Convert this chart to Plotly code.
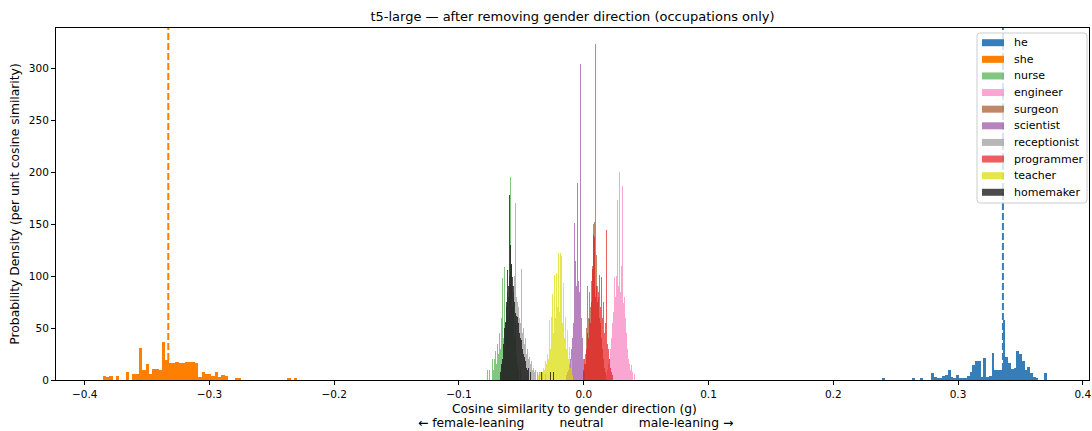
import plotly.graph_objects as go

# ---------------- data ----------------
series_names = ["he", "she", "nurse", "engineer", "surgeon", "scientist",
                "receptionist", "programmer", "teacher", "homemaker"]

she_start = -0.3855
she_bin_width = 0.00264
she_density = [3.8, 2.5, 3.8, 0, 3.8, 0, 0, 8, 0, 5.8, 5.8, 30.4, 9.6, 15.4, 5.8,
               10.3, 10.3, 9.6, 36.9, 19.2, 16.7, 16.7, 17.6, 16, 16, 17, 17, 17,
               16.7, 3.2, 8, 5.8, 5.8, 3.8, 8, 2.5, 4.5, 3.5, 0, 0, 1.5, 1.5,
               0, 0, 0, 0, 0, 0, 0, 0, 0, 0, 0, 0, 0, 0, 1.6, 0, 1.6, 0]

he_start = 0.2390
he_bin_width = 0.0022
he_density = [1.6, 0, 0, 0, 0, 0, 0, 0, 0, 0, 0, 1.9, 0, 0, 1.9, 0, 0, 0, 7, 2.6,
              1.6, 1.6, 3.5, 5, 10, 3, 1.6, 4.5, 1.6, 1.6, 2, 4, 8, 14.4, 18, 18,
              3, 21, 3, 4, 26, 10, 10, 10, 57.7, 22, 16, 10.5, 12, 28, 25, 18, 10,
              12.5, 7, 3, 1.6, 0, 0, 7]

she_mean = -0.333
he_mean = 0.336

occ_bin_width = 0.0008

nurse_start = -0.07772
nurse_density = [10, 0, 10, 0, 0, 20, 10, 20, 28, 15, 35, 25, 45, 30, 60, 98, 40,
                 109, 55, 70, 85, 60, 95, 195, 110, 70, 80, 40, 55, 25, 15, 10, 0, 10]

engineer_start = 0.01763
engineer_density = [5, 10, 15, 20, 30, 40, 55, 65, 99, 80, 100, 173, 90, 200, 85,
                    110, 187, 74, 80, 60, 45, 30, 20, 15, 10, 14, 8, 0, 6]

surgeon_start = -0.0008
surgeon_density = [8, 15, 25, 50, 90, 60, 85, 70, 95, 110, 150, 152, 323, 120, 90,
                   80, 60, 55, 40, 30, 20, 12, 8]

scientist_start = -0.01442
scientist_density = [5, 8, 10, 15, 20, 30, 40, 55, 151, 114, 90, 189, 95, 85, 304,
                     60, 40, 20, 8]

receptionist_start = -0.06731
receptionist_density = [10, 0, 15, 20, 30, 40, 55, 70, 80, 100, 95, 112, 90, 85, 100,
                        170, 80, 75, 70, 60, 55, 107, 45, 50, 35, 40, 25, 30, 20, 22,
                        15, 18, 10, 12, 8, 10, 0, 8, 0, 8, 0, 0, 8, 0, 0, 6]

programmer_start = -0.0008
programmer_density = [10, 20, 15, 30, 45, 40, 59, 55, 75, 107, 139, 138, 80, 90, 75,
                      85, 101, 70, 99, 60, 75, 45, 55, 144, 35, 30, 20, 12, 8, 5]

teacher_start = -0.03686
teacher_density = [5, 0, 8, 0, 8, 12, 10, 18, 15, 25, 20, 58, 30, 61, 83, 45, 101,
                   60, 103, 70, 122, 65, 122, 119, 55, 93, 40, 61, 30, 48, 20, 32,
                   12, 19, 5]

homemaker_start = -0.06731
homemaker_density = [8, 15, 20, 35, 50, 56, 75, 106, 90, 178, 130, 112, 99, 90, 75,
                     64, 62, 61, 55, 45, 40, 38, 30, 25, 22, 18, 12, 10, 12, 0, 8,
                     0, 0, 0, 0, 0, 0, 0, 0, 0, 0, 8, 0, 0, 0, 0, 0, 0, 0, 0, 8, 0,
                     0, 8]

x_ticks = [-0.4, -0.3, -0.2, -0.1, 0.0, 0.1, 0.2, 0.3, 0.4]
y_ticks = [0, 50, 100, 150, 200, 250, 300]

title_text = "t5-large — after removing gender direction (occupations only)"
x_title = "Cosine similarity to gender direction (g)"
x_subtitle = ["← female-leaning", "neutral", "male-leaning →"]
y_title = "Probability Density (per unit cosine similarity)"

# ---------------- style / layout ----------------
W, H = 1092, 431
PL, PR, PT, PB = 56, 1089, 28, 380          # plot area in pixels

colors = {
    "he": "#377eb8", "she": "#ff7f00", "nurse": "#4daf4a", "engineer": "#f781bf",
    "surgeon": "#a65628", "scientist": "#984ea3", "receptionist": "#999999",
    "programmer": "#e41a1c", "teacher": "#dada00", "homemaker": "#000000",
}
alphas = {"he": 1.0, "she": 1.0}
occ_alpha = 0.7


def rgba(hex_color, a):
    h = hex_color.lstrip("#")
    r, g, b = int(h[0:2], 16), int(h[2:4], 16), int(h[4:6], 16)
    return f"rgba({r},{g},{b},{a})"


def centers(start, width, n):
    return [start + (i + 0.5) * width for i in range(n)]


def px_x(px):
    return (px - PL) / (PR - PL)


def px_y(py):
    return (PB - py) / (PB - PT)


hist_data = {
    "he": (he_start, he_bin_width, he_density),
    "she": (she_start, she_bin_width, she_density),
    "nurse": (nurse_start, occ_bin_width, nurse_density),
    "engineer": (engineer_start, occ_bin_width, engineer_density),
    "surgeon": (surgeon_start, occ_bin_width, surgeon_density),
    "scientist": (scientist_start, occ_bin_width, scientist_density),
    "receptionist": (receptionist_start, occ_bin_width, receptionist_density),
    "programmer": (programmer_start, occ_bin_width, programmer_density),
    "teacher": (teacher_start, occ_bin_width, teacher_density),
    "homemaker": (homemaker_start, occ_bin_width, homemaker_density),
}

fig = go.Figure()
for name in series_names:
    start, width, dens = hist_data[name]
    a = alphas.get(name, occ_alpha)
    fig.add_trace(go.Bar(
        x=centers(start, width, len(dens)), y=dens, width=width, name=name,
        marker=dict(color=rgba(colors[name], a), line=dict(width=0)),
        hoverinfo="skip", showlegend=False,
    ))

# mean lines for he / she
for val, name in [(she_mean, "she"), (he_mean, "he")]:
    fig.add_shape(type="line", x0=val, x1=val, xref="x", y0=0, y1=1, yref="paper",
                  line=dict(color=colors[name], width=2, dash="7px,3px"), layer="above")

# legend (matplotlib style): box, patches, labels
lx0, lx1, ly0, ly1, rad = 977, 1087, 33, 203, 3
rx, ry = rad / (PR - PL), rad / (PB - PT)
X0, X1, Y0, Y1 = px_x(lx0), px_x(lx1), px_y(ly1), px_y(ly0)
box_path = (f"M{X0 + rx},{Y0} L{X1 - rx},{Y0} Q{X1},{Y0} {X1},{Y0 + ry} "
            f"L{X1},{Y1 - ry} Q{X1},{Y1} {X1 - rx},{Y1} L{X0 + rx},{Y1} "
            f"Q{X0},{Y1} {X0},{Y1 - ry} L{X0},{Y0 + ry} Q{X0},{Y0} {X0 + rx},{Y0} Z")
fig.add_shape(type="path", path=box_path, xref="paper", yref="paper",
              fillcolor="rgba(255,255,255,0.8)", line=dict(color="#cccccc", width=1),
              layer="above")
row0, row_step = 42.7, 16.62
for i, name in enumerate(series_names):
    cy = row0 + i * row_step
    a = alphas.get(name, occ_alpha)
    fig.add_shape(type="rect", xref="paper", yref="paper",
                  x0=px_x(982), x1=px_x(1004), y0=px_y(cy + 3.5), y1=px_y(cy - 3.5),
                  fillcolor=rgba(colors[name], a), line=dict(width=0), layer="above")
    fig.add_annotation(text=name, xref="paper", yref="paper", x=px_x(1012), y=px_y(cy),
                       xanchor="left", yanchor="middle", showarrow=False,
                       font=dict(size=11, color="#000000"))

# x axis title lines
nb = "\u00a0" * 9
fig.add_annotation(text=x_title, xref="paper", yref="paper", x=px_x(574), y=px_y(409),
                   xanchor="center", yanchor="middle", showarrow=False,
                   font=dict(size=12.3, color="black"))
fig.add_annotation(text=nb.join(x_subtitle), xref="paper", yref="paper",
                   x=px_x(575), y=px_y(423), xanchor="center", yanchor="middle",
                   showarrow=False, font=dict(size=12.3, color="black"))

fig.update_layout(
    width=W, height=H,
    margin=dict(l=PL, r=W - PR, t=PT, b=H - PB),
    paper_bgcolor="white", plot_bgcolor="white",
    barmode="overlay", bargap=0,
    font=dict(family="DejaVu Sans", size=12, color="black"),
    title=dict(text=title_text, x=0.5, xref="paper", xanchor="center",
               y=1 - 16 / H, yref="container", yanchor="middle",
               font=dict(size=13, color="black")),
    showlegend=False,
)
fig.update_xaxes(
    range=[-0.423, 0.405], tickvals=x_ticks, tickformat=".1f",
    ticks="outside", ticklen=4, tickwidth=1, tickcolor="black",
    showline=True, linecolor="black", linewidth=1, mirror=True,
    showgrid=False, zeroline=False, tickfont=dict(size=10.5),
    automargin=False,
)
fig.update_yaxes(
    range=[0, 338.5], tickvals=y_ticks,
    ticks="outside", ticklen=4, tickwidth=1, tickcolor="black",
    showline=True, linecolor="black", linewidth=1, mirror=True,
    showgrid=False, zeroline=False, tickfont=dict(size=10.5),
    automargin=False,
    title=dict(text=y_title, standoff=6, font=dict(size=12.3)),
)

fig.write_html("out.html", config={"displayModeBar": False},
               post_script="document.body.style.margin='0';")
